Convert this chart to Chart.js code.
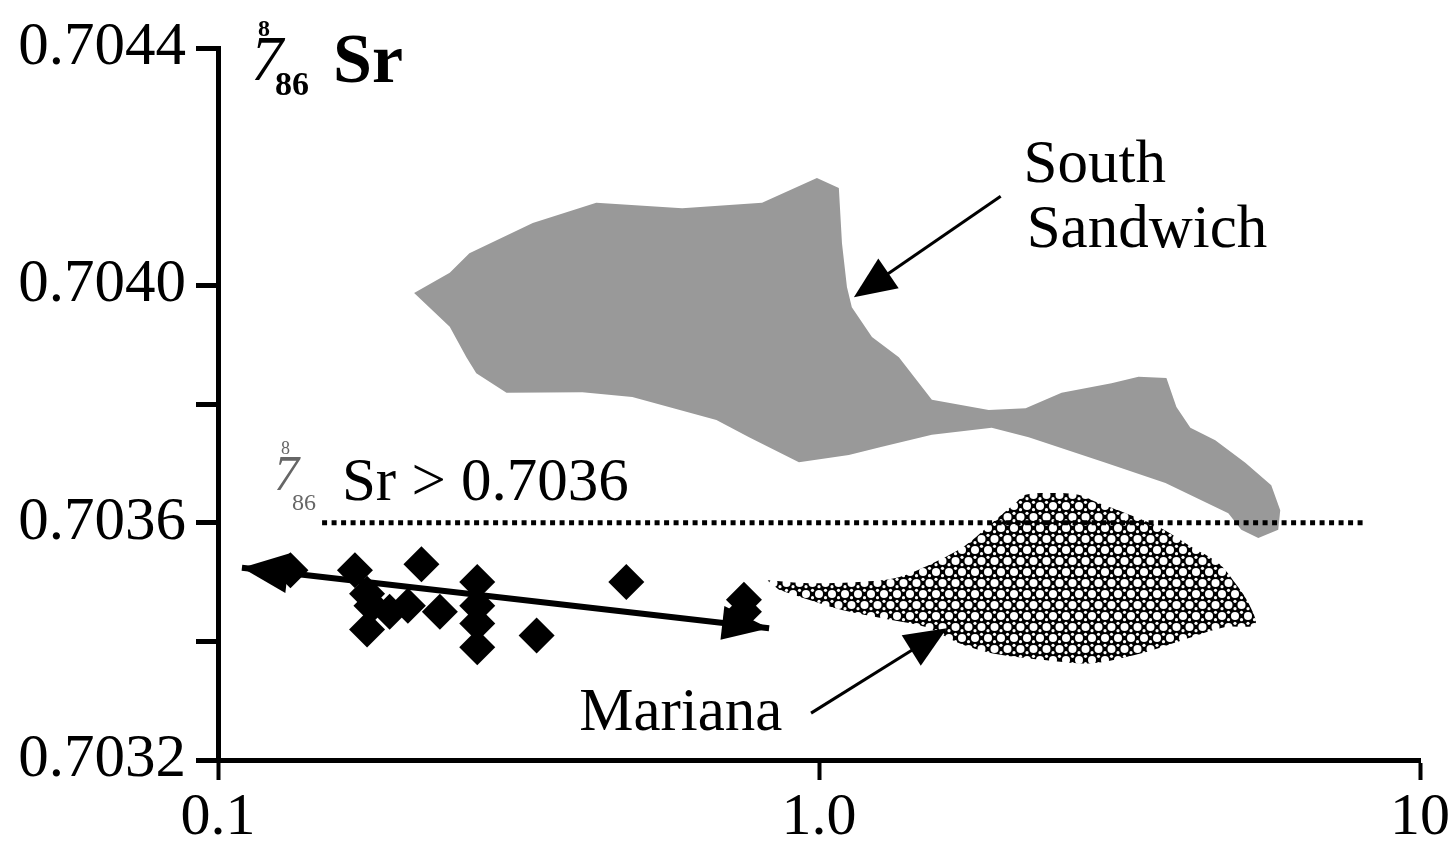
<!DOCTYPE html>
<html lang="en">
<head>
<meta charset="utf-8">
<title>87/86Sr – South Sandwich and Mariana</title>
<script src="https://cdn.jsdelivr.net/npm/chart.js@4.4.1/dist/chart.umd.min.js"></script>
<style>
  html, body { margin: 0; padding: 0; background: #fff; }
  #holder { width: 1452px; height: 846px; }
</style>
</head>
<body>
<div id="holder"><canvas id="chart" width="1452" height="846"></canvas></div>
<script>
  // axis ticks
  var xTickValues = [0.1, 1, 10];
  var xTickLabels = ['0.1', '1.0', '10'];
  var yTickValues = [0.7032, 0.7034, 0.7036, 0.7038, 0.7040, 0.7044];
  var yTickLabels = ['0.7032', '', '0.7036', '', '0.7040', '0.7044'];

  // samples (diamonds)
  var sampleX = [0.132, 0.169, 0.177, 0.180, 0.177, 0.193, 0.207, 0.218, 0.234,
                 0.270, 0.270, 0.270, 0.270, 0.339, 0.478, 0.750, 0.750];
  var sampleY = [0.70352, 0.70352, 0.70348, 0.70346, 0.70342, 0.70345, 0.70346, 0.70353, 0.70345,
                 0.70350, 0.70346, 0.70343, 0.70339, 0.70341, 0.70350, 0.70347, 0.70345];

  // double-headed trend arrow through the samples
  var trendX = [0.1096, 0.826];
  var trendY = [0.703524, 0.703422];

  // 87/86Sr = 0.7036 threshold
  var thresholdX = [0.149, 8.04];
  var thresholdY = [0.7036, 0.7036];

  // South Sandwich field
  var sandwichX = [0.212, 0.243, 0.262, 0.334, 0.426, 0.592, 0.804, 0.992, 1.079, 1.092,
                   1.113, 1.134, 1.225, 1.358, 1.541, 1.916, 2.207, 2.533, 3.067, 3.401,
                   3.785, 3.933, 4.149, 4.564, 5.121, 5.656, 5.854, 5.809, 5.382, 5.043,
                   4.798, 3.771, 2.998, 2.233, 1.938, 1.541, 1.273, 1.121, 0.926, 0.765,
                   0.675, 0.489, 0.404, 0.302, 0.269, 0.259, 0.243];
  var sandwichY = [0.703987, 0.704021, 0.704054, 0.704105, 0.704139, 0.704130, 0.704139, 0.704181, 0.704164, 0.704071,
                   0.703997, 0.703963, 0.703913, 0.703879, 0.703807, 0.703790, 0.703793, 0.703819, 0.703835, 0.703846,
                   0.703844, 0.703795, 0.703760, 0.703739, 0.703701, 0.703663, 0.703621, 0.703588, 0.703574, 0.703588,
                   0.703616, 0.703667, 0.703701, 0.703744, 0.703760, 0.703748, 0.703728, 0.703714, 0.703702, 0.703744,
                   0.703773, 0.703812, 0.703820, 0.703819, 0.703852, 0.703879, 0.703930];

  // Mariana field
  var marianaX = [0.820, 0.962, 1.165, 1.358, 1.564, 1.754, 1.938, 2.124, 2.207, 2.438,
                  2.703, 2.918, 3.236, 3.671, 4.166, 4.618, 4.928, 5.180, 5.319, 4.744,
                  4.166, 3.440, 2.841, 2.347, 1.938, 1.708, 1.506, 1.322, 1.092, 0.962, 0.858];
  var marianaY = [0.703503, 0.703498, 0.703500, 0.703508, 0.703534, 0.703562, 0.703599, 0.703633, 0.703647, 0.703650,
                  0.703647, 0.703633, 0.703616, 0.703593, 0.703559, 0.703532, 0.703498, 0.703465, 0.703428, 0.703424,
                  0.703407, 0.703380, 0.703363, 0.703369, 0.703380, 0.703397, 0.703424, 0.703436, 0.703453, 0.703470, 0.703487];

  // field labels and their pointer arrows
  var labelText = ['South', 'Sandwich', 'Mariana'];
  var labelX = [2.19, 2.216, 0.399];
  var labelY = [0.704174, 0.704065, 0.703251];
  var pointerFromX = [2.006, 0.970];
  var pointerFromY = [0.704150, 0.703279];
  var pointerToX = [1.143, 1.632];
  var pointerToY = [0.703980, 0.703422];

  var SERIF = "'Liberation Serif', 'Times New Roman', serif";

  function zip(xs, ys) {
    return xs.map(function (x, i) { return { x: x, y: ys[i] }; });
  }

  // hex mesh of white holes, like the Mariana fill
  function meshPattern() {
    var w = 13, h = 22;
    var c = document.createElement('canvas');
    c.width = w; c.height = h;
    var g = c.getContext('2d');
    g.fillStyle = '#000';
    g.fillRect(0, 0, w, h);
    g.fillStyle = '#fff';
    var holes = [[0, 0], [w, 0], [0, h], [w, h], [w / 2, h / 2]];
    holes.forEach(function (p) {
      g.beginPath(); g.arc(p[0], p[1], 4, 0, Math.PI * 2); g.fill();
    });
    var specks = [[w / 2, h / 6], [0, h / 3], [w, h / 3], [w / 2, h * 5 / 6], [0, h * 2 / 3], [w, h * 2 / 3]];
    specks.forEach(function (p) {
      g.beginPath(); g.arc(p[0], p[1], 1.6, 0, Math.PI * 2); g.fill();
    });
    return g.createPattern(c, 'repeat');
  }

  function arrowHead(ctx, x0, y0, x1, y1, len, half) {
    var a = Math.atan2(y1 - y0, x1 - x0);
    var bx = x1 - len * Math.cos(a), by = y1 - len * Math.sin(a);
    ctx.beginPath();
    ctx.moveTo(x1, y1);
    ctx.lineTo(bx + half * Math.sin(a), by - half * Math.cos(a));
    ctx.lineTo(bx - half * Math.sin(a), by + half * Math.cos(a));
    ctx.closePath();
    ctx.fill();
  }

  var annotations = {
    id: 'annotations',
    afterDatasetsDraw: function (chart) {
      var ctx = chart.ctx, xs = chart.scales.x, ys = chart.scales.y;
      var area = chart.chartArea;
      ctx.save();
      ctx.fillStyle = '#000';
      ctx.strokeStyle = '#000';

      // heads of the trend arrow
      var tx0 = xs.getPixelForValue(trendX[0]), ty0 = ys.getPixelForValue(trendY[0]);
      var tx1 = xs.getPixelForValue(trendX[1]), ty1 = ys.getPixelForValue(trendY[1]);
      arrowHead(ctx, tx1, ty1, tx0, ty0, 46, 20);
      arrowHead(ctx, tx0, ty0, tx1, ty1, 47, 17);

      // pointer arrows
      ctx.lineWidth = 3;
      for (var i = 0; i < pointerFromX.length; i++) {
        var fx = xs.getPixelForValue(pointerFromX[i]), fy = ys.getPixelForValue(pointerFromY[i]);
        var px = xs.getPixelForValue(pointerToX[i]), py = ys.getPixelForValue(pointerToY[i]);
        var a = Math.atan2(py - fy, px - fx);
        ctx.beginPath();
        ctx.moveTo(fx, fy);
        ctx.lineTo(px - 30 * Math.cos(a), py - 30 * Math.sin(a));
        ctx.stroke();
        arrowHead(ctx, fx, fy, px, py, 42, 18);
      }

      // field labels
      ctx.textBaseline = 'alphabetic';
      ctx.textAlign = 'left';
      ctx.font = '61px ' + SERIF;
      for (var j = 0; j < labelText.length; j++) {
        ctx.fillText(labelText[j], xs.getPixelForValue(labelX[j]), ys.getPixelForValue(labelY[j]));
      }

      // threshold label "87/86Sr > 0.7036"
      var lx = xs.getPixelForValue(0.1258), ly = ys.getPixelForValue(0.703638);
      ctx.fillStyle = '#666';
      ctx.font = '18px ' + SERIF;
      ctx.fillText('8', lx + 3, ly - 46);
      ctx.font = 'italic 50px ' + SERIF;
      ctx.fillText('7', lx - 4, ly - 10);
      ctx.font = '24px ' + SERIF;
      ctx.fillText('86', lx + 14, ly + 10);
      ctx.fillStyle = '#000';
      ctx.font = '61px ' + SERIF;
      ctx.fillText('Sr > 0.7036', lx + 64, ly);

      // y axis title "87/86 Sr"
      var ax = area.left, at = area.top;
      ctx.font = 'bold 24px ' + SERIF;
      ctx.fillText('8', ax + 40, at - 12);
      ctx.font = 'italic 64px ' + SERIF;
      ctx.fillText('7', ax + 33, at + 32);
      ctx.font = 'bold 34px ' + SERIF;
      ctx.fillText('86', ax + 57, at + 47);
      ctx.font = 'bold 70px ' + SERIF;
      ctx.fillText('Sr', ax + 115, at + 34);
      ctx.restore();
    }
  };

  var config = {
    type: 'scatter',
    data: {
      datasets: [{
        label: 'Samples',
        data: zip(sampleX, sampleY),
        pointStyle: 'rectRot',
        pointRadius: 18,
        backgroundColor: '#000',
        borderWidth: 0
      }, {
        label: 'Trend',
        data: zip(trendX, trendY),
        showLine: true,
        borderColor: '#000',
        borderWidth: 6,
        pointRadius: 0
      }, {
        label: 'Threshold',
        data: zip(thresholdX, thresholdY),
        showLine: true,
        borderColor: '#000',
        borderWidth: 5,
        borderDash: [5, 4.5],
        borderCapStyle: 'butt',
        pointRadius: 0
      }, {
        label: 'Mariana',
        data: zip(marianaX, marianaY),
        showLine: true,
        fill: 'shape',
        backgroundColor: meshPattern(),
        borderWidth: 0,
        pointRadius: 0,
        tension: 0.3
      }, {
        label: 'South Sandwich',
        data: zip(sandwichX, sandwichY),
        showLine: true,
        fill: 'shape',
        backgroundColor: 'rgb(153,153,153)',
        borderWidth: 0,
        pointRadius: 0,
        tension: 0
      }]
    },
    options: {
      responsive: false,
      animation: false,
      events: [],
      layout: { padding: { left: 0, top: 48, right: 30, bottom: 0 } },
      plugins: {
        legend: { display: false },
        tooltip: { enabled: false }
      },
      scales: {
        x: {
          type: 'logarithmic',
          min: 0.1,
          max: 10,
          position: 'bottom',
          afterBuildTicks: function (s) {
            s.ticks = xTickValues.map(function (v) { return { value: v }; });
          },
          afterFit: function (s) { s.height = 86; },
          border: { display: true, color: '#000', width: 5 },
          grid: { drawOnChartArea: false, drawTicks: true, tickLength: 20, tickWidth: 4, tickColor: '#000' },
          ticks: {
            autoSkip: false,
            maxRotation: 0,
            color: '#000',
            padding: 2,
            font: { family: SERIF, size: 60 },
            callback: function (v, i) { return xTickLabels[i]; }
          }
        },
        y: {
          type: 'linear',
          min: 0.7032,
          max: 0.7044,
          position: 'left',
          afterBuildTicks: function (s) {
            s.ticks = yTickValues.map(function (v) { return { value: v }; });
          },
          afterFit: function (s) { s.width = 218; },
          border: { display: true, color: '#000', width: 5 },
          grid: { drawOnChartArea: false, drawTicks: true, tickLength: 22, tickWidth: 5, tickColor: '#000' },
          ticks: {
            autoSkip: false,
            color: '#000',
            padding: 10,
            font: { family: SERIF, size: 61 },
            callback: function (v, i) { return yTickLabels[i]; }
          }
        }
      }
    },
    plugins: [annotations]
  };

  window.onload = function () {
    var ctx = document.getElementById('chart').getContext('2d');
    window.srChart = new Chart(ctx, config);
  };
</script>
</body>
</html>
